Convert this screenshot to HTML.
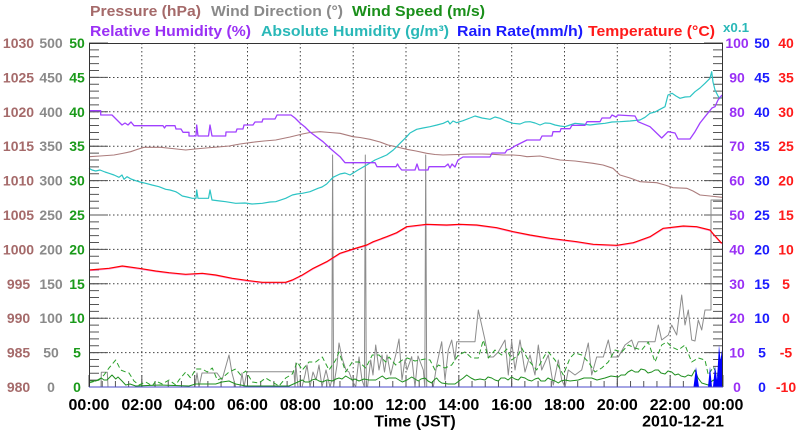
<!DOCTYPE html>
<html><head><meta charset="utf-8"><style>
html,body{margin:0;padding:0;background:#fff;}
svg{display:block;font-family:"Liberation Sans",Arial,sans-serif;font-weight:bold;}
</style></head><body>
<svg width="800" height="434" viewBox="0 0 800 434" xmlns="http://www.w3.org/2000/svg">
<rect width="800" height="434" fill="#fff"/>
<!-- legend -->
<g font-size="15">
<text x="90" y="16" fill="#a56a6a" textLength="111" lengthAdjust="spacingAndGlyphs">Pressure (hPa)</text>
<text x="211" y="16" fill="#8a8a8a" textLength="132" lengthAdjust="spacingAndGlyphs">Wind Direction (°)</text>
<text x="352" y="16" fill="#1a8f1a" textLength="133" lengthAdjust="spacingAndGlyphs">Wind Speed (m/s)</text>
<text x="90" y="36" fill="#9a30f5" textLength="161" lengthAdjust="spacingAndGlyphs">Relative Humidity (%)</text>
<text x="261" y="36" fill="#2ab8b8" textLength="188" lengthAdjust="spacingAndGlyphs">Absolute Humidity (g/m³)</text>
<text x="457" y="36" fill="#1a1aff" textLength="126" lengthAdjust="spacingAndGlyphs">Rain Rate(mm/h)</text>
<text x="588" y="36" fill="#ff1a1a" textLength="127" lengthAdjust="spacingAndGlyphs">Temperature (°C)</text>
</g>
<text x="723" y="32" font-size="13" fill="#2ab8b8" textLength="26" lengthAdjust="spacingAndGlyphs">x0.1</text>

<!-- grid -->
<g stroke="#444" stroke-width="1" stroke-dasharray="1.5,2.5" fill="none">
<path d="M141.8,43V387M194.7,43V387M247.5,43V387M300.3,43V387M353.2,43V387M406,43V387M458.8,43V387M511.7,43V387M564.5,43V387M617.3,43V387M670.2,43V387"/>
<path d="M89,77.5H723M89,111.8H723M89,146.2H723M89,180.6H723M89,215H723M89,249.4H723M89,283.8H723M89,318.2H723M89,352.6H723"/>
</g>

<!-- ticks -->
<g stroke="#555" fill="none">
<line x1="94" y1="42.5" x2="94" y2="387.5" stroke-width="10" stroke-dasharray="1,5.88"/>
<line x1="98.5" y1="42.5" x2="98.5" y2="387.5" stroke-width="19" stroke-dasharray="1,33.4"/>
<line x1="718" y1="42.5" x2="718" y2="387.5" stroke-width="10" stroke-dasharray="1,5.88"/>
<line x1="713.5" y1="42.5" x2="713.5" y2="387.5" stroke-width="19" stroke-dasharray="1,33.4"/>
<line x1="88.5" y1="384" x2="723.5" y2="384" stroke-width="6" stroke-dasharray="1,12.208"/>
<line x1="88.5" y1="381" x2="723.5" y2="381" stroke-width="12" stroke-dasharray="1,51.833"/>
</g>

<!-- series -->
<g fill="none" stroke-linejoin="round">
<!-- wind direction -->
<polyline stroke="#8c8c8c" stroke-width="1" points="89,387 101,387 101.3,372.3 107.3,372.3 108,387 195,387 197,373 199,387 202,373 217,373 222,380 229,355 232,373 235.7,387 240,387 242,373 244,387 247,371.7 294,371.7 295,387 295.7,363 298,387 302,387 305,375 307,365 310,387 313,372 316,380 319,365 322,387 326,370 330,387 331.8,380 332.6,155 333.6,387 337,365 339,343 342,358 346,370 349,372 352,380 355.7,387 359,357 362,380 364.4,387 365.3,155 366.3,387 367.5,387 370.7,360 373,375 375.7,345 379,370 382,355 384.5,372 387,355 390.7,375 393,365 395.7,355 399,339 402,380 405,360 407,370 411.7,356.7 415,387 418,356 423.3,370 424.8,387 425.7,155 426.7,387 428.3,387 433.3,387 436.7,365 441.7,341.7 445,380 448.3,350 451.7,340 455,360 456.7,341.7 475,341.7 478.3,310 485,340 488.3,357 493.3,357 498.3,352 505,340 508.3,375 511.7,341 515,370 520,340 525,372 530,355 535,375 538.3,345 541.7,370 548.3,355 553.3,385 558.3,360 561.7,380 565,387 568.3,370 575,375 581.7,370 588.3,343 591.7,375 596.7,357 603.3,357 608.3,340 611.7,357 618.3,357 625,345 631.7,340 635,350 638.3,341.7 655,341.7 658.3,325 661.7,340 668.3,335 671.7,325 676.7,335 681.7,295 685,325 688.3,310 691.7,340 695,341 698.3,320 701.7,330 705,310 708.3,310 711,310 711,200 723,200"/>
<!-- wind gust dashed -->
<polyline stroke="#2aa02a" stroke-width="1" stroke-dasharray="5,3" points="89,383 99,380 104,375 109,368 115.7,360 120.7,370 125.7,372 129,373 134,381 139,385 145.7,382 152.3,386 155.7,381 162.3,384 169,380 175.7,385 179,380 185.7,372 190.7,378 195.7,369 202.3,369 207.3,372 212.3,368 217.3,380 222.3,378 229,372 235.7,369 240.7,375 245.7,371 252.3,382 259,383 265.7,378 272.3,382 279,386 285.7,378 292.3,374 297.3,362 302.3,370 309,362 315.7,362 322.3,357 329,370 335.7,360 339,352 345.7,372 352.3,362 359,362 365.7,368 372.3,355 379,355 385.7,362 389,357 395.7,365 402.3,360 407.3,358 415,361 425,359 430,360 435,370 438.3,365 445,368 451.7,365 458.3,355 465,352 471.7,358 478.3,358 483.3,340 488.3,358 495,350 501.7,355 506.7,349 511.7,360 518.3,355 521.7,348 528.3,360 536.7,370 545,355 548.3,352 555,360 563.3,375 570,358 575,353 581.7,355 588.3,362 595,372 601.7,368 608.3,362 615,350 621.7,352 628.3,345 635,348 641.7,350 648.3,342 655,362 661.7,345 666.7,342 671.7,347 678.3,350 685,345 691.7,362 698.3,358 705,360 708.3,375 713.3,367 718.3,377 723,385"/>
<!-- wind speed solid -->
<polyline stroke="#1f8f1f" stroke-width="1" points="89,381 95.7,381 101.3,378 104,380 107,380 110,377 112,375 115.7,379 118,377 122,381 125.7,385 130,384 135.7,386 160,385 189,386 195.7,384 215.7,384 222,382 229,381 235.7,384 245.7,386 289,386 295.7,383 302.3,380 305,382 309,382 312,380 315.7,379 319,381 322.3,382 327,380 332.3,381 336,379 339,378 342,379 345.7,376 349,378 352.3,380 355,379 359,381 364,379 369,380 375.7,380 379,378 382.3,376 386,379 389,378 395.7,378 399,380 402.3,382 407,380 411.7,377 415,379 418.3,381 421,379 425,378 428,381 431.7,383 434,380 436.7,378 439,381 441.7,383 448.3,384 455,384 459,381 463.3,378 466.7,375 471,378 475,380 480,379 485,380 488,377 491.7,378 495,380 498.3,381 501,378 505,378 508,380 511.7,377 515,379 518.3,380 521,377 525,378 528,380 531.7,381 535,379 538.3,378 541,381 545,381 548,378 551.7,380 555,381 558.3,383 561,381 565,380 570,381 578.3,380 584,378 591.7,378 597,380 605,378 611,376 618.3,377 621,375 625,375 628,372 631.7,370 635,372 638.3,372 641,369 645,370 648,373 651.7,372 655,370 658.3,370 661,373 665,374 668,371 671.7,372 675,375 678.3,374 681,376 685,377 688,375 691.7,376 695,370 698,378 701.7,383 705,384 708.3,385 711,382 713.3,380 717,383 720,384 723,386"/>
<!-- rain -->
<path fill="#0000ff" stroke="none" d="M693.5,387L696,367L699,387ZM708,387L710,366.7L712,387ZM713,387L715,366L717,380L719,345L720.5,360L722,350L723,387Z"/>
<!-- pressure -->
<polyline stroke="#ab7c7c" stroke-width="1.1" points="89,156.7 100,156 114,155 122,153.5 130.7,151.7 137,149.5 144,147.3 160.7,147.3 172,148.5 185.7,150 195,149 205.7,148 218,147 229,146 240,144 252.3,142.3 264,141 275.7,140 290,137 302.3,134 310,132.5 320,131.7 330,132.5 340,133.3 353,136.7 360,137.5 370,139.3 380,142 388,145 397,147 406.7,149.3 416,151 426.7,153.3 435,154.5 443,155 458,154.5 470,154 482,154 493,154.3 503,155 513,155 520,155.5 527,156.7 540,156 550,158 560,160 575,161 593,163.3 603,165 613,168.3 620,175 630,178 640,181.7 656.7,182.7 665,185 673,187.7 686.7,188.3 693,191 700,195 710,196 722,197.3"/>
<!-- absolute humidity -->
<polyline stroke="#2cc4c4" stroke-width="1.2" points="89,168.3 92,170 95.7,171 100,170 105,172 109,173.3 114,175 119,177.3 122,175 124,179.3 127,176.7 131,179 135.7,180.7 140,182 145.7,183.3 152,185 159,186.7 165.7,189.3 170,190 175.7,191.7 178,193 182.3,196 187,197 192.3,198.3 196,198.3 196.7,190 198,198.3 208.5,198.3 210,190 212,200 220,201 225.7,201.7 235.7,203.3 245,203 252,204 262.3,203.3 270,202 275.7,201.7 285.7,198.3 292.3,195 297,194 302.3,193.3 310,191.7 318,188.3 322,187 326.7,184 333,177.3 340,174 345,173 350,175 358,170 366.7,165 375,160 386.7,155 393.3,150 400,143.3 406.7,136.7 410,133 416.7,129.3 423,128 430,126.7 437,125 443.3,123.3 448,121 450,124 453,121 456.7,122.7 463,120.7 470,118 475,116 482,118 490,119.3 495,117 500,118.3 506,121 513,123.3 520,124 525,122 530,121.7 535,123 540,125 545,123 550,123.3 555,125 560,126 565,126.7 570,125 575,123.3 582,124 590,125 598,124 605,123.3 612,122 620,121.7 630,121 640,120 645,117.3 650,113.3 655,112 660,109.3 665,106.7 668,95 672,93.3 676,96 680,98.3 685,97 690,96.7 695,91.7 700,88 705,83.3 710,78.3 711.7,71.7 713,82 715,90 718,96 720,98.3 722,95"/>
<!-- relative humidity -->
<polyline stroke="#a040ff" stroke-width="1.3" points="89,110.7 100.7,110.7 100.7,115 112,115 117,120 122,125 125,123 128,125 131,122 134,125.7 163,125.7 164.5,128 166,125.7 175,125.7 176,129 181,129 183,132.3 189,132.3 189,136 196,136 196.7,125 198,136 208.5,136 210,125 212,136 225.7,136 226,132 236,132 237,129 243,129 244,125 253,125 255,122 262,122 263,119 275,119 277,115 291,115 295,118 300,123 305,127 310,132 323,141.7 332,150 340,156.7 345,162.7 375,162.7 377,166.7 396,166.7 397.5,164 399,166.7 401.7,170 415,170 417,164 419,170 428,170 429,166.7 445,166.7 448,164 450,168 452,164 455,167 458,160 463,157 490,157 492,153 505,153 507,150 510,149.3 515,146 527,140 540,140 542,136 552,136 553,131.7 560,131.7 561,128.7 570,128.7 572,125.3 585,125.3 587,121.7 600,121.7 602,118 610,118 612,115 616,117 618,115 635,116 638,121.7 650,126.7 661.7,138 668,131.7 675,133 678,139 690,139 695,131.7 700,123 705,116.7 712,108 715,106.7 718,100 722,95"/>
<!-- temperature -->
<polyline stroke="#ff40c0" stroke-width="1.6" opacity="0.5" points="89,270.5 109,268.8 122.3,266.5 139,268.8 155.7,271.5 169,273.2 185.7,274.8 202.3,273.8 215.7,275.5 232.3,278.8 249,281.2 262.3,282.8 285.7,282.8 292.3,280.5 302.3,275.5 313.3,268.8 326.7,262.2 340,253.8 353.3,249.5 366.7,245.5 373.3,242.2 386.7,237.2 396.7,233.2 406.7,227.2 426.7,224.8 446.7,225.5 460,224.8 476.7,225.5 496.7,228.2 513.3,232.2 530,235.5 550,238.8 576.7,242.2 593.3,244.8 616.7,245.8 633.3,243.2 650,237.2 663.3,228.8 683.3,226.5 696.7,227.2 710,230.5 713.3,234.5 721.7,243.8"/>
<polyline stroke="#ff0000" stroke-width="1.2" points="89,270 109,268.3 122.3,266 139,268.3 155.7,271 169,272.7 185.7,274.3 202.3,273.3 215.7,275 232.3,278.3 249,280.7 262.3,282.3 285.7,282.3 292.3,280 302.3,275 313.3,268.3 326.7,261.7 340,253.3 353.3,249 366.7,245 373.3,241.7 386.7,236.7 396.7,232.7 406.7,226.7 426.7,224.3 446.7,225 460,224.3 476.7,225 496.7,227.7 513.3,231.7 530,235 550,238.3 576.7,241.7 593.3,244.3 616.7,245.3 633.3,242.7 650,236.7 663.3,228.3 683.3,226 696.7,226.7 710,230 713.3,234 721.7,243.3"/>
</g>

<!-- frame -->
<g fill="none" stroke-width="1">
<path d="M89.5,387V43.5H722.5V387" stroke="#333"/>
<line x1="89" y1="387" x2="723" y2="387" stroke="#4a4ac8"/>
</g>

<!-- left labels -->
<g font-size="14" text-anchor="middle">
<g fill="#a56a6a">
<text x="18.5" y="48">1030</text><text x="18.5" y="82.4">1025</text><text x="18.5" y="116.8">1020</text><text x="18.5" y="151.2">1015</text><text x="18.5" y="185.6">1010</text><text x="18.5" y="220">1005</text><text x="18.5" y="254.4">1000</text><text x="18.5" y="288.8">995</text><text x="18.5" y="323.2">990</text><text x="18.5" y="357.6">985</text><text x="18.5" y="392">980</text>
</g>
<g fill="#8a8a8a">
<text x="51" y="48">500</text><text x="51" y="82.4">450</text><text x="51" y="116.8">400</text><text x="51" y="151.2">350</text><text x="51" y="185.6">300</text><text x="51" y="220">250</text><text x="51" y="254.4">200</text><text x="51" y="288.8">150</text><text x="51" y="323.2">100</text><text x="51" y="357.6">50</text><text x="51" y="392">0</text>
</g>
<g fill="#1a9a1a">
<text x="77" y="48">50</text><text x="77" y="82.4">45</text><text x="77" y="116.8">40</text><text x="77" y="151.2">35</text><text x="77" y="185.6">30</text><text x="77" y="220">25</text><text x="77" y="254.4">20</text><text x="77" y="288.8">15</text><text x="77" y="323.2">10</text><text x="77" y="357.6">5</text><text x="77" y="392">0</text>
</g>
<!-- right labels -->
<g fill="#9a30f5">
<text x="737" y="48">100</text><text x="737" y="82.4">90</text><text x="737" y="116.8">80</text><text x="737" y="151.2">70</text><text x="737" y="185.6">60</text><text x="737" y="220">50</text><text x="737" y="254.4">40</text><text x="737" y="288.8">30</text><text x="737" y="323.2">20</text><text x="737" y="357.6">10</text><text x="737" y="392">0</text>
</g>
<g fill="#1a1aff">
<text x="762" y="48">50</text><text x="762" y="82.4">45</text><text x="762" y="116.8">40</text><text x="762" y="151.2">35</text><text x="762" y="185.6">30</text><text x="762" y="220">25</text><text x="762" y="254.4">20</text><text x="762" y="288.8">15</text><text x="762" y="323.2">10</text><text x="762" y="357.6">5</text><text x="762" y="392">0</text>
</g>
<g fill="#ff1a1a">
<text x="786" y="48">40</text><text x="786" y="82.4">35</text><text x="786" y="116.8">30</text><text x="786" y="151.2">25</text><text x="786" y="185.6">20</text><text x="786" y="220">15</text><text x="786" y="254.4">10</text><text x="786" y="288.8">5</text><text x="786" y="323.2">0</text><text x="786" y="357.6">-5</text><text x="786" y="392">-10</text>
</g>
</g>

<!-- x labels -->
<g font-size="16" fill="#000" text-anchor="middle">
<text x="89" y="410">00:00</text><text x="141.8" y="410">02:00</text><text x="194.7" y="410">04:00</text><text x="247.5" y="410">06:00</text><text x="300.3" y="410">08:00</text><text x="353.2" y="410">10:00</text><text x="406" y="410">12:00</text><text x="458.8" y="410">14:00</text><text x="511.7" y="410">16:00</text><text x="564.5" y="410">18:00</text><text x="617.3" y="410">20:00</text><text x="670.2" y="410">22:00</text><text x="723" y="410">00:00</text>
<text x="415" y="426.5">Time (JST)</text>
<text x="683" y="426.5">2010-12-21</text>
</g>
</svg>
</body></html>
